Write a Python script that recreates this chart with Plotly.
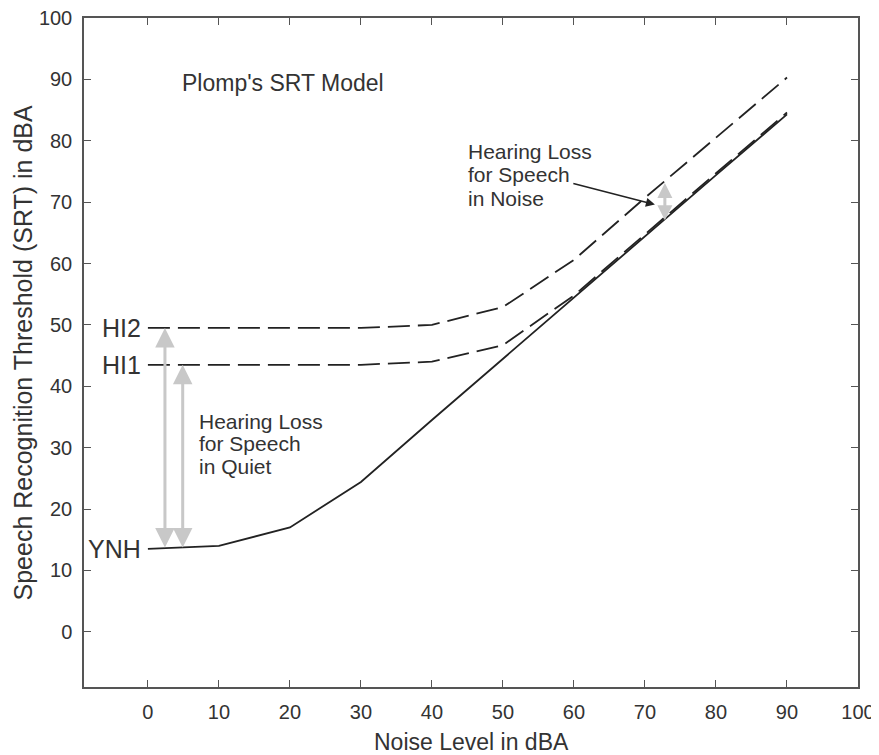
import plotly.graph_objects as go

noise = [0, 10, 20, 30, 40, 50, 60, 70, 80, 90]
ynh = [13.5, 14.0, 17.0, 24.4, 34.5, 44.5, 54.5, 64.5, 74.4, 84.3]
hi1 = [43.5, 43.5, 43.5, 43.5, 44.0, 46.7, 54.8, 64.8, 74.7, 84.6]
hi2 = [49.5, 49.5, 49.5, 49.5, 50.0, 52.9, 60.6, 70.7, 80.5, 90.3]

x_ticks = [0, 10, 20, 30, 40, 50, 60, 70, 80, 90, 100]
y_ticks = [0, 10, 20, 30, 40, 50, 60, 70, 80, 90, 100]

curve_labels = ["HI2", "HI1", "YNH"]
curve_label_y = [49.5, 43.5, 13.5]

quiet_lines = ["Hearing Loss", "for Speech", "in Quiet"]
quiet_line_y = [34.2, 30.6, 26.9]
noise_lines = ["Hearing Loss", "for Speech", "in Noise"]
noise_line_y = [78.3, 74.5, 70.6]

# gray double arrows: (x, y_low, y_high)
quiet_arrows = [(2.4, 13.5, 49.5), (4.9, 13.5, 43.5)]
noise_arrow = (72.8, 66.8, 73.1)

FONT = "Liberation Sans, Arial, sans-serif"
DARK = "#333333"
LINE = "#222222"
AX = "#555555"

fig = go.Figure()
fig.add_trace(go.Scatter(x=noise, y=ynh, mode="lines",
                         line=dict(color=LINE, width=1.8), showlegend=False))
fig.add_trace(go.Scatter(x=noise, y=hi1, mode="lines",
                         line=dict(color=LINE, width=1.8, dash="22px,8px"), showlegend=False))
fig.add_trace(go.Scatter(x=noise, y=hi2, mode="lines",
                         line=dict(color=LINE, width=1.8, dash="22px,8px"), showlegend=False))

ann = []
for (xa, y0, y1) in quiet_arrows:
    ann.append(dict(x=xa, y=y1, ax=xa, ay=y0, xref="x", yref="y", axref="x", ayref="y",
                    text="", showarrow=True, arrowhead=2, startarrowhead=2,
                    arrowside="end+start", arrowsize=1.3, startarrowsize=1.3,
                    arrowwidth=3, arrowcolor="#c8c8c8"))
xa, y0, y1 = noise_arrow
ann.append(dict(x=xa, y=y1, ax=xa, ay=y0, xref="x", yref="y", axref="x", ayref="y",
                text="", showarrow=True, arrowhead=2, startarrowhead=2,
                arrowside="end+start", arrowsize=1.0, startarrowsize=1.0,
                arrowwidth=3, arrowcolor="#c8c8c8"))

# black pointer for noise label
ann.append(dict(x=71.4, y=69.6, ax=59.7, ay=73.1, xref="x", yref="y", axref="x", ayref="y",
                text="", showarrow=True, arrowhead=2, arrowsize=1.2, arrowwidth=1.5,
                arrowcolor=LINE))

for t, yv in zip(curve_labels, curve_label_y):
    ann.append(dict(x=-0.7, y=yv, xref="x", yref="y", text=t, showarrow=False,
                    xanchor="right", yanchor="middle",
                    font=dict(family=FONT, size=25, color=DARK)))

ann.append(dict(x=4.5, y=89.4, xref="x", yref="y", text="Plomp's SRT Model", showarrow=False,
                xanchor="left", yanchor="middle", font=dict(family=FONT, size=23, color=DARK)))
for t, yv in zip(quiet_lines, quiet_line_y):
    ann.append(dict(x=6.9, y=yv, xref="x", yref="y", text=t, showarrow=False,
                    xanchor="left", yanchor="middle",
                    font=dict(family=FONT, size=21, color=DARK)))
for t, yv in zip(noise_lines, noise_line_y):
    ann.append(dict(x=44.8, y=yv, xref="x", yref="y", text=t, showarrow=False,
                    xanchor="left", yanchor="middle",
                    font=dict(family=FONT, size=21, color=DARK)))

# axis titles
ann.append(dict(x=0.5, y=0, xref="paper", yref="paper", yshift=-55, text="Noise Level in dBA",
                showarrow=False, xanchor="center", yanchor="middle",
                font=dict(family=FONT, size=23, color=DARK)))
ann.append(dict(x=0, y=0.5, xref="paper", yref="paper", xshift=-62,
                text="Speech Recognition Threshold (SRT) in dBA", textangle=-90,
                showarrow=False, xanchor="center", yanchor="middle",
                font=dict(family=FONT, size=25, color=DARK)))

fig.update_layout(
    width=879, height=755,
    margin=dict(l=76, r=29, t=10, b=76),
    paper_bgcolor="white", plot_bgcolor="white",
    annotations=ann,
    font=dict(family=FONT, color=DARK),
)
axis_common = dict(showgrid=False, zeroline=False, showline=True, linecolor=AX,
                   linewidth=1.5, mirror="ticks", ticks="inside", ticklen=7,
                   tickcolor=AX, tickwidth=1.3, automargin=False,
                   ticklabeloverflow="allow",
                   tickfont=dict(family=FONT, size=20, color=DARK))
fig.update_xaxes(range=[-9, 100], tickvals=x_ticks, ticktext=[str(v) for v in x_ticks],
                 ticklabelstandoff=6, **axis_common)
fig.update_yaxes(range=[-9, 100], tickvals=y_ticks, ticktext=[str(v) for v in y_ticks],
                 ticklabelstandoff=6, **axis_common)

fig.write_html("out.html")
